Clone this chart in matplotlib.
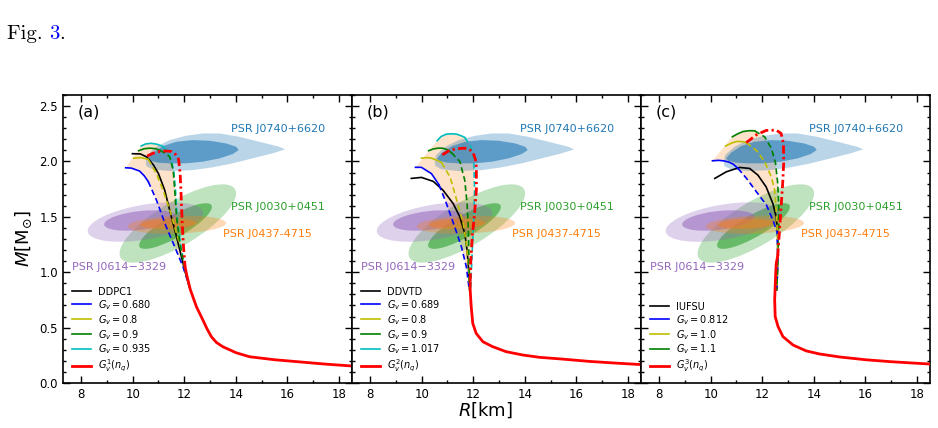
import numpy as np
import matplotlib
matplotlib.use("Agg")
import matplotlib.pyplot as plt
from matplotlib.patches import Ellipse, Polygon
from matplotlib.transforms import Affine2D
from matplotlib.lines import Line2D

# ---------------- data ----------------
# Panel (a)  DDPC1
A_K_R = [9.99, 10.3, 10.55, 10.8, 11.0, 11.24, 11.5, 11.7, 11.89, 12.05, 12.23]
A_K_M = [2.07, 2.068, 2.04, 1.97, 1.89, 1.742, 1.50, 1.32, 1.14, 0.99, 0.846]
A_B_R_S = [9.73, 9.95, 10.27, 10.45, 10.6]
A_B_M_S = [1.943, 1.94, 1.913, 1.87, 1.82]
A_B_R_D = [10.6, 10.92, 11.3, 11.63, 11.95, 12.23]
A_B_M_D = [1.82, 1.652, 1.41, 1.23, 1.05, 0.846]
A_Y_R_S = [10.04, 10.3, 10.6]
A_Y_M_S = [2.03, 2.035, 2.02]
A_Y_R_D = [10.6, 10.92, 11.18, 11.44, 11.7, 11.89, 12.05, 12.23]
A_Y_M_D = [2.02, 1.89, 1.74, 1.56, 1.35, 1.20, 1.02, 0.846]
A_G_R_S = [10.23, 10.45, 10.66, 10.9, 11.05]
A_G_M_S = [2.097, 2.115, 2.12, 2.115, 2.10]
A_G_R_D = [11.05, 11.3, 11.44, 11.57, 11.63, 11.70, 11.83, 12.02, 12.23]
A_G_M_D = [2.10, 2.07, 2.04, 1.92, 1.74, 1.50, 1.26, 1.02, 0.846]
A_C_R_S = [10.33, 10.5, 10.72, 10.95, 11.18]
A_C_M_S = [2.14, 2.158, 2.164, 2.155, 2.135]
A_C_R_D = [11.18, 11.4, 11.5, 11.6, 11.66, 11.72, 11.85, 12.03, 12.23]
A_C_M_D = [2.135, 2.08, 2.01, 1.90, 1.74, 1.50, 1.26, 1.02, 0.846]
A_R_R_D = [10.56, 10.8, 11.05, 11.3, 11.5, 11.68, 11.78, 11.84, 11.88, 11.92, 11.97, 12.03]
A_R_M_D = [2.049, 2.075, 2.09, 2.095, 2.09, 2.06, 2.02, 1.89, 1.68, 1.44, 1.23, 1.05]
A_T_R = [12.03, 12.1, 12.23, 12.47, 12.72, 12.88, 13.05, 13.25, 13.49, 14.01, 14.53, 15.5, 16.5, 17.5, 18.6]
A_T_M = [1.05, 0.97, 0.846, 0.689, 0.569, 0.49, 0.418, 0.365, 0.328, 0.273, 0.237, 0.21, 0.19, 0.17, 0.152]

# Panel (b)  DDVTD
B_K_R = [9.60, 9.99, 10.45, 10.83, 11.22, 11.48, 11.67, 11.76, 11.82, 11.86]
B_K_M = [1.847, 1.856, 1.82, 1.74, 1.62, 1.50, 1.35, 1.20, 1.02, 0.84]
B_B_R_S = [9.76, 9.99, 10.38, 10.67]
B_B_M_S = [1.947, 1.947, 1.89, 1.79]
B_B_R_D = [10.67, 10.96, 11.28, 11.54, 11.73, 11.83, 11.86]
B_B_M_D = [1.79, 1.62, 1.41, 1.23, 1.05, 0.87, 0.84]
B_Y_R_S = [9.99, 10.2, 10.38, 10.6, 10.77]
B_Y_M_S = [2.03, 2.035, 2.03, 2.01, 1.99]
B_Y_R_D = [10.77, 11.1, 11.36, 11.61, 11.73, 11.82, 11.86]
B_Y_M_D = [1.99, 1.86, 1.65, 1.44, 1.26, 1.05, 0.84]
B_G_R_S = [10.27, 10.45, 10.63, 10.8, 10.96, 11.15]
B_G_M_S = [2.097, 2.113, 2.12, 2.12, 2.11, 2.08]
B_G_R_D = [11.15, 11.48, 11.67, 11.76, 11.81, 11.83, 11.86]
B_G_M_D = [2.08, 2.00, 1.83, 1.62, 1.38, 1.14, 0.84]
B_C_R_S = [10.6, 10.75, 10.96, 11.15, 11.35, 11.55, 11.67]
B_C_M_S = [2.187, 2.225, 2.247, 2.25, 2.247, 2.23, 2.217]
B_C_R_D = [11.67, 11.92, 12.02, 12.05, 12.01, 11.95, 11.9, 11.86]
B_C_M_D = [2.217, 2.13, 2.01, 1.74, 1.44, 1.14, 0.87, 0.84]
B_R_R_D = [10.8, 11.08, 11.35, 11.67, 11.85, 11.99, 12.08, 12.12, 12.12, 12.05, 11.96, 11.9, 11.88]
B_R_M_D = [2.06, 2.10, 2.115, 2.12, 2.11, 2.08, 2.02, 1.95, 1.74, 1.53, 1.32, 1.08, 0.9]
B_T_R = [11.88, 11.88, 11.92, 11.98, 12.11, 12.37, 12.75, 13.27, 13.91, 14.56, 15.5, 16.5, 17.5, 18.6]
B_T_M = [0.9, 0.84, 0.689, 0.539, 0.449, 0.373, 0.328, 0.283, 0.253, 0.232, 0.215, 0.195, 0.18, 0.165]

# Panel (c)  IUFSU
C_K_R = [10.16, 10.61, 11.12, 11.51, 11.83, 12.15, 12.41, 12.54, 12.6, 12.6, 12.58, 12.56]
C_K_M = [1.847, 1.907, 1.946, 1.937, 1.877, 1.77, 1.62, 1.50, 1.35, 1.14, 0.95, 0.84]
C_B_R_S = [10.07, 10.3, 10.49, 10.7, 10.87, 11.06]
C_B_M_S = [2.006, 2.01, 2.006, 1.995, 1.976, 1.937]
C_B_R_D = [11.06, 11.39, 11.77, 12.16, 12.41, 12.57, 12.6, 12.58, 12.56]
C_B_M_D = [1.937, 1.847, 1.727, 1.607, 1.471, 1.366, 1.14, 0.95, 0.84]
C_Y_R_S = [10.58, 10.8, 11.0, 11.2, 11.38]
C_Y_M_S = [2.14, 2.165, 2.18, 2.18, 2.17]
C_Y_R_D = [11.38, 11.77, 12.09, 12.35, 12.48, 12.54, 12.58, 12.6, 12.58, 12.56]
C_Y_M_D = [2.17, 2.10, 2.0, 1.86, 1.74, 1.56, 1.38, 1.14, 0.95, 0.84]
C_G_R_S = [10.84, 11.05, 11.25, 11.5, 11.7]
C_G_M_S = [2.223, 2.25, 2.27, 2.278, 2.277]
C_G_R_D = [11.7, 12.09, 12.35, 12.51, 12.6, 12.64, 12.64, 12.6, 12.58, 12.56]
C_G_M_D = [2.277, 2.223, 2.12, 1.99, 1.80, 1.59, 1.35, 1.14, 0.95, 0.84]
C_R_R_D = [11.38, 11.77, 12.15, 12.54, 12.73, 12.82, 12.83, 12.79, 12.73, 12.66, 12.6]
C_R_M_D = [2.17, 2.24, 2.28, 2.283, 2.253, 2.163, 1.986, 1.80, 1.59, 1.35, 1.15]
C_T_R = [12.6, 12.54, 12.52, 12.48, 12.5, 12.61, 12.80, 13.19, 13.7, 14.22, 15.0, 16.0, 17.0, 18.0, 18.6]
C_T_M = [1.15, 1.08, 0.99, 0.75, 0.60, 0.51, 0.419, 0.343, 0.29, 0.262, 0.235, 0.21, 0.192, 0.178, 0.17]

# legend labels
A_LABELS = ["DDPC1", r"$G_v=0.680$", r"$G_v=0.8$", r"$G_v=0.9$", r"$G_v=0.935$", r"$G_v^1(n_q)$"]
B_LABELS = ["DDVTD", r"$G_v=0.689$", r"$G_v=0.8$", r"$G_v=0.9$", r"$G_v=1.017$", r"$G_v^2(n_q)$"]
C_LABELS = ["IUFSU", r"$G_v=0.812$", r"$G_v=1.0$", r"$G_v=1.1$", r"$G_v^3(n_q)$"]
PANEL_TAGS = ["(a)", "(b)", "(c)"]

# PSR J0740+6620 contours (R, M)
J0740_OUT_R = [10.505, 10.56, 10.92, 11.43, 12.07, 12.72, 13.36, 14.13, 14.91, 15.68, 15.91,
               15.42, 14.65, 13.88, 13.1, 12.33, 11.43, 10.79, 10.53]
J0740_OUT_M = [1.998, 2.058, 2.133, 2.193, 2.232, 2.253, 2.253, 2.223, 2.178, 2.133, 2.109,
               2.073, 2.028, 1.983, 1.947, 1.922, 1.913, 1.928, 1.958]
J0740_IN_R = [10.595, 10.79, 11.18, 11.69, 12.33, 12.98, 13.62, 14.01, 14.11, 13.88, 13.37,
              12.72, 12.07, 11.43, 10.98, 10.68]
J0740_IN_M = [2.028, 2.079, 2.139, 2.178, 2.193, 2.187, 2.163, 2.133, 2.103, 2.067, 2.028,
              1.998, 1.983, 1.983, 1.989, 2.007]
# Other pulsars: ellipse centre (R, M), width, height (km-equivalent), tilt (deg)
J0030_OUT = (11.75, 1.44, 5.17, 1.70, 31.0)
J0030_IN = (11.66, 1.417, 3.22, 0.85, 30.0)
J0614_OUT = (10.5, 1.453, 4.54, 1.35, 9.5)
J0614_IN = (10.29, 1.467, 2.81, 0.73, 6.5)
J0437_OUT = (11.72, 1.429, 3.80, 0.69, 2.0)
J0437_IN = (11.37, 1.437, 2.19, 0.39, 2.0)

PSR_NAMES = ["PSR J0740+6620", "PSR J0030+0451", "PSR J0437-4715", "PSR J0614\u22123329"]
PSR_LABEL_R = [13.83, 13.83, 13.52, 7.65]
PSR_LABEL_M = [2.29, 1.59, 1.345, 1.05]

# ---------------- figure ----------------
W, H = 938, 428
fig = plt.figure(figsize=(W / 100, H / 100), dpi=100)
L, Rr, T, Bm = 63 / W, 930 / W, 1 - 95 / H, 1 - 383 / H
pw = (Rr - L) / 3
axes = [fig.add_axes([L + i * pw, Bm, pw, T - Bm]) for i in range(3)]

XLIM = (7.3, 18.5)
YLIM = (0.0, 2.6)
# M units per "km-equivalent" of screen length (so ellipses are drawn isotropically)
K = ((YLIM[1] - YLIM[0]) / ((T - Bm) * H)) / ((XLIM[1] - XLIM[0]) / (pw * W))

PSR_COLS = ["tab:blue", "tab:green", "tab:orange", "tab:purple"]


def ellipse(ax, p, color, alpha):
    tr = Affine2D().scale(1, K) + ax.transData
    e = Ellipse((p[0], p[1] / K), p[2], p[3], angle=p[4], transform=tr,
                facecolor=color, edgecolor="none", alpha=alpha, zorder=1.5)
    ax.add_patch(e)


def pulsars(ax):
    ax.add_patch(Polygon(np.column_stack([J0740_OUT_R, J0740_OUT_M]), closed=True,
                         facecolor="tab:blue", edgecolor="none", alpha=0.3, zorder=1.5))
    ax.add_patch(Polygon(np.column_stack([J0740_IN_R, J0740_IN_M]), closed=True,
                         facecolor="tab:blue", edgecolor="none", alpha=0.6, zorder=1.5))
    ellipse(ax, J0030_OUT, "tab:green", 0.3)
    ellipse(ax, J0030_IN, "tab:green", 0.6)
    ellipse(ax, J0614_OUT, "tab:purple", 0.3)
    ellipse(ax, J0614_IN, "tab:purple", 0.55)
    ellipse(ax, J0437_OUT, "tab:orange", 0.3)
    ellipse(ax, J0437_IN, "tab:orange", 0.45)
    for name, r, m, c in zip(PSR_NAMES, PSR_LABEL_R, PSR_LABEL_M, PSR_COLS):
        ax.text(r, m, name, color=c, fontsize=8, ha="left", va="center", zorder=5)


LW = 1.2
DASH = (0, (3.5, 2.0))
DASHDOT = (0, (3.0, 1.2, 0.8, 1.2))


def curve(ax, rs, ms, rd, md, color):
    ax.plot(rs, ms, color=color, lw=LW, zorder=3)
    ax.plot(rd, md, color=color, lw=LW, ls=DASH, zorder=3)


def band(ax, r1, m1, r2, m2):
    pr = list(r1) + list(r2)[::-1]
    pm = list(m1) + list(m2)[::-1]
    ax.fill(pr, pm, color="tab:orange", alpha=0.22, lw=0, zorder=1)


# panel a
ax = axes[0]
band(ax, A_B_R_S + A_B_R_D, A_B_M_S + A_B_M_D, A_C_R_S + A_C_R_D, A_C_M_S + A_C_M_D)
pulsars(ax)
ax.plot(A_K_R, A_K_M, color="k", lw=LW, zorder=3)
curve(ax, A_B_R_S, A_B_M_S, A_B_R_D, A_B_M_D, "b")
curve(ax, A_Y_R_S, A_Y_M_S, A_Y_R_D, A_Y_M_D, "y")
curve(ax, A_C_R_S, A_C_M_S, A_C_R_D, A_C_M_D, "c")
curve(ax, A_G_R_S, A_G_M_S, A_G_R_D, A_G_M_D, "g")
ax.plot(A_R_R_D, A_R_M_D, color="r", lw=2, ls=DASHDOT, zorder=3.5)
ax.plot(A_T_R, A_T_M, color="r", lw=2, zorder=3.5)

# panel b
ax = axes[1]
band(ax, B_B_R_S + B_B_R_D, B_B_M_S + B_B_M_D, B_C_R_S + B_C_R_D, B_C_M_S + B_C_M_D)
pulsars(ax)
ax.plot(B_K_R, B_K_M, color="k", lw=LW, zorder=3)
curve(ax, B_B_R_S, B_B_M_S, B_B_R_D, B_B_M_D, "b")
curve(ax, B_Y_R_S, B_Y_M_S, B_Y_R_D, B_Y_M_D, "y")
curve(ax, B_C_R_S, B_C_M_S, B_C_R_D, B_C_M_D, "c")
curve(ax, B_G_R_S, B_G_M_S, B_G_R_D, B_G_M_D, "g")
ax.plot(B_R_R_D, B_R_M_D, color="r", lw=2, ls=DASHDOT, zorder=3.5)
ax.plot(B_T_R, B_T_M, color="r", lw=2, zorder=3.5)

# panel c
ax = axes[2]
band(ax, C_B_R_S + C_B_R_D, C_B_M_S + C_B_M_D, C_G_R_S + C_G_R_D, C_G_M_S + C_G_M_D)
pulsars(ax)
ax.plot(C_K_R, C_K_M, color="k", lw=LW, zorder=3)
curve(ax, C_B_R_S, C_B_M_S, C_B_R_D, C_B_M_D, "b")
curve(ax, C_Y_R_S, C_Y_M_S, C_Y_R_D, C_Y_M_D, "y")
curve(ax, C_G_R_S, C_G_M_S, C_G_R_D, C_G_M_D, "g")
ax.plot(C_R_R_D, C_R_M_D, color="r", lw=2, ls=DASHDOT, zorder=3.5)
ax.plot(C_T_R, C_T_M, color="r", lw=2, zorder=3.5)

# legends, ticks
cols6 = ["k", "b", "y", "g", "c", "r"]
cols5 = ["k", "b", "y", "g", "r"]
for i, (ax, labels, cols) in enumerate(zip(axes, [A_LABELS, B_LABELS, C_LABELS], [cols6, cols6, cols5])):
    handles = [Line2D([], [], color=c, lw=(2 if c == "r" else LW)) for c in cols]
    ax.legend(handles, labels, loc="lower left", frameon=False, fontsize=7,
              handlelength=2.0, handletextpad=0.7, labelspacing=0.12)
    ax.set_xlim(*XLIM)
    ax.set_ylim(*YLIM)
    ax.set_xticks([8, 10, 12, 14, 16, 18])
    ax.set_xticks(np.arange(8, 19, 1), minor=True)
    ax.set_yticks([0.0, 0.5, 1.0, 1.5, 2.0, 2.5])
    ax.set_yticks(np.arange(0, 2.61, 0.1), minor=True)
    ax.tick_params(which="both", direction="in", top=True, right=True, labelsize=8.5, width=1.0)
    ax.tick_params(which="major", length=4.8)
    ax.tick_params(which="minor", length=2.4)
    for s in ax.spines.values():
        s.set_linewidth(1.2)
    if i > 0:
        ax.tick_params(labelleft=False)
    ax.text(0.05, 0.94, PANEL_TAGS[i], transform=ax.transAxes, fontsize=11.5,
            ha="left", va="center")

axes[0].yaxis.set_major_formatter(matplotlib.ticker.FormatStrFormatter("%.1f"))
axes[0].set_ylabel(r"$M[\mathrm{M}_{\odot}]$", fontsize=13, labelpad=4)
fig.text(485 / W, 1 - 410 / H, r"$R$[km]", fontsize=13, ha="center", va="center")

# caption fragment
t1 = fig.text(6.5 / W, 1 - 39 / H, "Fig. ", fontfamily="cmr10", fontsize=15, va="baseline")
t2 = axes[0].annotate("3", xy=(1, 0), xycoords=t1, va="bottom", ha="left",
                      fontfamily="cmr10", fontsize=15, color="blue", annotation_clip=False)
t3 = axes[0].annotate(".", xy=(1, 0), xycoords=t2, va="bottom", ha="left",
                      fontfamily="cmr10", fontsize=15, color="black", annotation_clip=False)

fig.savefig("out.png", dpi=100)
